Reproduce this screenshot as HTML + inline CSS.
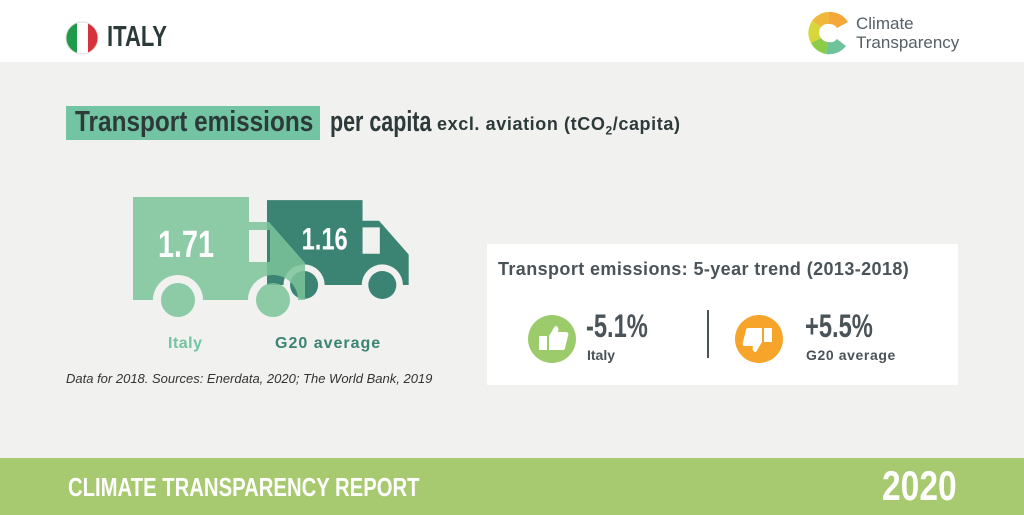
<!DOCTYPE html>
<html><head><meta charset="utf-8"><style>
body{margin:0;width:1024px;height:515px;overflow:hidden;background:#f1f1ef;font-family:"Liberation Sans",sans-serif;position:relative}
.abs{position:absolute;white-space:nowrap}
.nar{font-weight:bold;transform-origin:0 0}
</style></head><body>
<div class="abs" style="left:0;top:0;width:1024px;height:62px;background:#fff">
  <svg class="abs" style="left:65px;top:21px" width="34" height="34">
    <clipPath id="c"><circle cx="17" cy="17" r="16"/></clipPath>
    <g clip-path="url(#c)"><rect x="0" y="0" width="12" height="34" fill="#1f9a48"/><rect x="12" y="0" width="11" height="34" fill="#fff"/><rect x="23" y="0" width="12" height="34" fill="#d4323c"/></g>
    <circle cx="17" cy="17" r="16" fill="none" stroke="#ddd"/>
  </svg>
  <div class="abs nar" style="left:107px;top:21px;font-size:29px;color:#2d3a3a;transform:scaleX(0.76)">ITALY</div>
  <svg class="abs" style="left:806px;top:10px" width="46" height="46">
    <path d="M23 2 A21 21 0 0 1 42 12 L31 18 A9 9 0 0 0 23 14Z" fill="#f4a73a"/>
    <path d="M23 2 A21 21 0 0 0 6 11 L15 17 A9 9 0 0 1 23 14Z" fill="#f0b83a"/>
    <path d="M6 11 A21 21 0 0 0 5 33 L15 28 A9 9 0 0 1 15 17Z" fill="#d7d63a"/>
    <path d="M5 33 A21 21 0 0 0 20 44 L22 32 A9 9 0 0 1 15 28Z" fill="#8ccc48"/>
    <path d="M20 44 A21 21 0 0 0 40 36 L31 29 A9 9 0 0 1 22 32Z" fill="#6fc39a"/>
  </svg>
  <div class="abs" style="left:856px;top:14px;font-size:17px;line-height:19px;color:#555f66">Climate<br>Transparency</div>
</div>
<div class="abs" style="left:66px;top:106px;width:254px;height:34px;background:#72c4a2"></div>
<div class="abs nar" style="left:75px;top:106px;font-size:29px;color:#2d3a3a;transform:scaleX(0.84)">Transport emissions</div>
<div class="abs nar" style="left:330px;top:106px;font-size:29px;color:#2d3a3a;transform:scaleX(0.74)">per capita</div>
<div class="abs" style="left:437px;top:114px;font-size:18px;font-weight:bold;color:#2d3a3a;letter-spacing:0.6px">excl. aviation (tCO<sub style="font-size:12px">2</sub>/capita)</div>
<svg class="abs" id="chart" style="left:0;top:0" width="480" height="400"></svg>
<div class="abs" style="left:168px;top:335px;font-size:16px;font-weight:bold;color:#72c4a2;letter-spacing:0.5px">Italy</div>
<div class="abs" style="left:275px;top:335px;font-size:16px;font-weight:bold;color:#3b8373;letter-spacing:1px">G20 average</div>
<div class="abs" style="left:66px;top:371px;font-size:13px;font-style:italic;color:#333">Data for 2018. Sources: Enerdata, 2020; The World Bank, 2019</div>
<div class="abs" style="left:487px;top:244px;width:471px;height:141px;background:#fff">
  <div class="abs" style="left:11px;top:15px;font-size:18px;font-weight:bold;color:#4a5358;letter-spacing:0.4px">Transport emissions: 5-year trend (2013-2018)</div>
  <svg class="abs" style="left:40px;top:70px" width="50" height="50"><circle cx="25" cy="25" r="24" fill="#9ccb6c"/><path d="M12 22h8v14h-8z M22 22l6-10c3 0 4 2 3 6h8c2 0 3 2 2 4l-3 12c0 2-2 2-3 2h-13z" fill="#fff"/></svg>
  <div class="abs nar" style="left:99px;top:64px;font-size:32px;color:#4a5358;transform:scaleX(0.74)">-5.1%</div>
  <div class="abs" style="left:100px;top:103px;font-size:14px;font-weight:bold;color:#4a5358">Italy</div>
  <div class="abs" style="left:220px;top:66px;width:2px;height:48px;background:#4a5358"></div>
  <svg class="abs" style="left:247px;top:70px" width="50" height="50"><circle cx="25" cy="25" r="24" fill="#f6a42a"/><path d="M38 28h-8v-14h8z M28 28l-6 10c-3 0-4-2-3-6h-8c-2 0-3-2-2-4l3-12c0-2 2-2 3-2h13z" fill="#fff"/></svg>
  <div class="abs nar" style="left:318px;top:64px;font-size:32px;color:#4a5358;transform:scaleX(0.74)">+5.5%</div>
  <div class="abs" style="left:319px;top:103px;font-size:14px;font-weight:bold;color:#4a5358;letter-spacing:0.6px">G20 average</div>
</div>
<div class="abs" style="left:0;top:458px;width:1024px;height:57px;background:#a7c96f">
  <div class="abs nar" style="left:68px;top:14px;font-size:26px;color:#fff;transform:scaleX(0.78)">CLIMATE TRANSPARENCY REPORT</div>
  <div class="abs nar" style="left:882px;top:4px;font-size:42px;color:#fff;transform:scaleX(0.8)">2020</div>
</div>
<script>
const categories=["Italy","G20 average"];
const values=[1.71,1.16];
const labels=["1.71","1.16"];
const svg=document.getElementById('chart');
const NS='http://www.w3.org/2000/svg';
const maxV=Math.max(...values);
const colors=["#7cc49a","#3b8373"];
const origins=[[133,300],[267,285]];
function scaleOf(v){return Math.sqrt(v/maxV);}
function drawTruck(i){
  const s=scaleOf(values[i]);const [ox,oy]=origins[i];
  const g=document.createElementNS(NS,'g');
  
  
  g.setAttribute('transform','translate('+ox+','+(oy)+') scale('+s+') translate(0,-103)');
  if(i==0)g.setAttribute('opacity','0.85');
  const m='mask'+i;
  g.innerHTML='<mask id="'+m+'"><rect x="-10" y="-10" width="200" height="140" fill="#fff"/><circle cx="45" cy="103" r="25" fill="#000"/><circle cx="140" cy="103" r="25" fill="#000"/><path d="M116 33h21l0 32h-21z" fill="#000"/></mask>'+
  '<path mask="url(#'+m+')" d="M0 0h116v25h20l36 41v37h-172z" fill="'+colors[i]+'"/>'+
  '<circle cx="45" cy="103" r="17" fill="'+colors[i]+'"/><circle cx="140" cy="103" r="17" fill="'+colors[i]+'"/>';
  svg.appendChild(g);
  const t=document.createElementNS(NS,'text');
  
  
  t.setAttribute('x',ox+(i==0?53:70)*s);t.setAttribute('y',oy-103*s+60*s);
  t.setAttribute('text-anchor','middle');t.setAttribute('fill','#fff');
  t.setAttribute('font-family','"Liberation Sans",sans-serif');
  t.setAttribute('font-weight','bold');
  t.setAttribute('font-size',38*s);
  t.setAttribute('textLength',56*s);
  t.setAttribute('lengthAdjust','spacingAndGlyphs');
  t.textContent=labels[i];
  return t;
}
const t1=drawTruck(1);svg.appendChild(t1);
const t0=drawTruck(0);svg.appendChild(t0);
</script>
</body></html>
